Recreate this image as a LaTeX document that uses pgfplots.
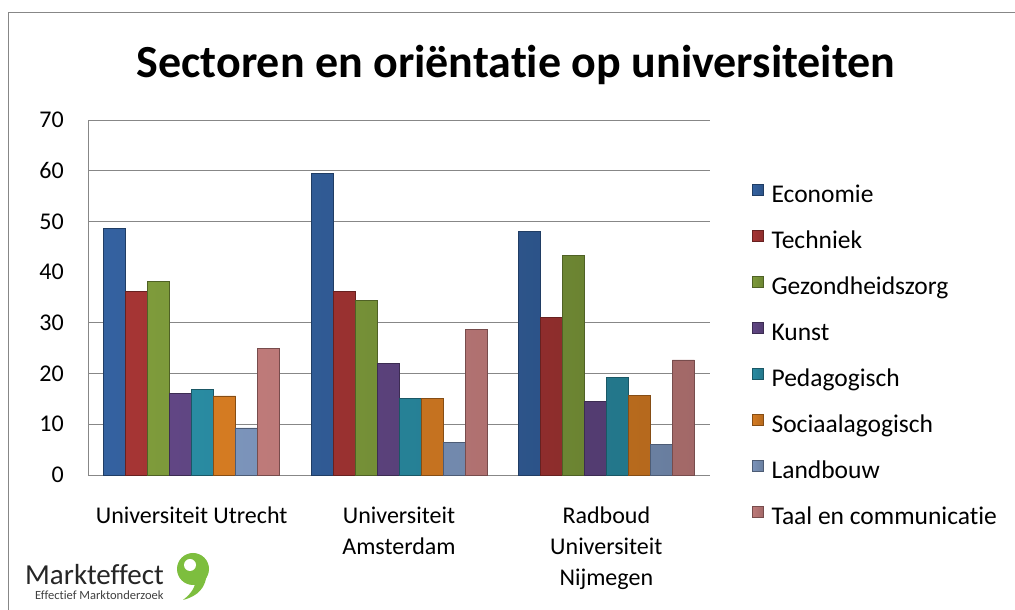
\documentclass[border=0pt]{standalone}
\usepackage{fontspec}
\setmainfont[Ligatures=NoCommon]{Carlito}
\usepackage{pgfplots}
\pgfplotsset{compat=1.18}
\definecolor{cEco}{HTML}{3B6FB6}
\definecolor{cTec}{HTML}{BC3C3B}
\definecolor{cGez}{HTML}{8FB043}
\definecolor{cKun}{HTML}{6E5096}
\definecolor{cPed}{HTML}{2F9EB8}
\definecolor{cSoc}{HTML}{F28C27}
\definecolor{cLan}{HTML}{8CA8D4}
\definecolor{cTaa}{HTML}{D88B8A}
\definecolor{gridgray}{HTML}{878787}
\definecolor{logogreen}{HTML}{7DBE3E}
\tikzset{barstyle/.style={left color=#1!88!black, middle color=#1!92!white, right color=#1!75!black, draw=#1!55!black, line width=0.6pt}}
\begin{document}
\begin{tikzpicture}[x=1pt,y=1pt]
\useasboundingbox (0,0) rectangle (1015,610);
\fill[white] (0,0) rectangle (1015,610);
\draw[gridgray, line width=1pt] (8.5,0) -- (8.5,597) -- (1015,597);
\node[anchor=base, font=\fontsize{46}{46}\selectfont\bfseries] at (516,532) {Sectoren en oriëntatie op universiteiten};
\begin{axis}[
  at={(88pt,135pt)}, anchor=south west,
  scale only axis, width=622pt, height=355pt,
  xmin=-0.5, xmax=2.5, ymin=0, ymax=70,
  ybar=0pt, bar width=22pt,
  axis lines*=left,
  axis line style={gridgray, line width=0.9pt},
  major tick length=0pt,
  ytick={0,10,...,70},
  xtick=data,
  xticklabels={{Universiteit Utrecht},{Universiteit\\Amsterdam},{Radboud\\Universiteit\\Nijmegen}},
  xticklabel style={align=center, anchor=north, inner sep=0pt, yshift=-32pt, font=\fontsize{24}{31}\selectfont},
  yticklabel style={anchor=east, inner sep=0pt, xshift=-24pt, font=\fontsize{24}{28}\selectfont},
  /pgf/number format/assume math mode=true,
  legend style={at={(1.0675,0.8197)}, anchor=north west, draw=none, fill=none, inner sep=0pt, outer sep=0pt,
    row sep=22.2pt, column sep=8pt, font=\fontsize{25.5}{28}\selectfont,
    nodes={inner sep=0pt, text height=17pt, text depth=5pt}},
  legend cell align=left,
  legend image code/.code={\path[#1] (0pt,1.5pt) rectangle (11pt,12.5pt);},
  clip=false,
]
\draw[gridgray, line width=0.9pt] (axis cs:-0.5,10) -- (axis cs:2.5,10);
\draw[gridgray, line width=0.9pt] (axis cs:-0.5,20) -- (axis cs:2.5,20);
\draw[gridgray, line width=0.9pt] (axis cs:-0.5,30) -- (axis cs:2.5,30);
\draw[gridgray, line width=1.5pt] (axis cs:-0.5,50) -- (axis cs:2.5,50);
\draw[gridgray, line width=0.9pt] (axis cs:-0.5,60) -- (axis cs:2.5,60);
\draw[gridgray, line width=0.9pt] (axis cs:-0.5,70) -- (axis cs:2.5,70);
\addplot[barstyle=cEco] coordinates {(0,48.7) (1,59.4) (2,48.1)};
\addlegendentry{Economie}
\addplot[barstyle=cTec] coordinates {(0,36.2) (1,36.2) (2,31.0)};
\addlegendentry{Techniek}
\addplot[barstyle=cGez] coordinates {(0,38.2) (1,34.5) (2,43.3)};
\addlegendentry{Gezondheidszorg}
\addplot[barstyle=cKun] coordinates {(0,16.1) (1,22.0) (2,14.5)};
\addlegendentry{Kunst}
\addplot[barstyle=cPed] coordinates {(0,16.9) (1,15.1) (2,19.3)};
\addlegendentry{Pedagogisch}
\addplot[barstyle=cSoc] coordinates {(0,15.6) (1,15.1) (2,15.7)};
\addlegendentry{Sociaalagogisch}
\addplot[barstyle=cLan] coordinates {(0,9.3) (1,6.5) (2,6.0)};
\addlegendentry{Landbouw}
\addplot[barstyle=cTaa] coordinates {(0,25.0) (1,28.7) (2,22.7)};
\addlegendentry{Taal en communicatie}
\end{axis}
% logo
\node[anchor=base west, inner sep=0pt, font=\fontsize{29}{29}\selectfont, text=black!85] at (25,25) {Markteffect};
\node[anchor=base west, inner sep=0pt, font=\fontsize{12.5}{12.5}\selectfont, text=black!75] at (35,10) {Effectief Marktonderzoek};
\fill[logogreen] (193,41) circle (16);
\fill[logogreen] (207,38) .. controls (206,22) and (198,14) .. (183,10) .. controls (192,17) and (196,24) .. (195,30) -- cycle;
\fill[white] (190,45) circle (6);
\end{tikzpicture}
\end{document}
